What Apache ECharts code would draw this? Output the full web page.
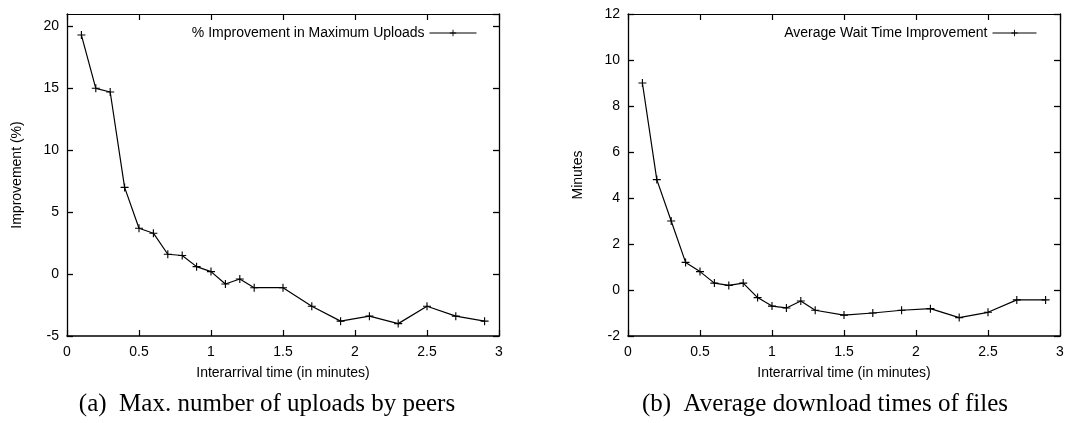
<!DOCTYPE html>
<html>
<head>
<meta charset="utf-8">
<script src="https://cdn.jsdelivr.net/npm/echarts@6/dist/echarts.min.js"></script>
<style>
  html, body { margin: 0; padding: 0; background: #fff; }
  #main { width: 1079px; height: 423px; }
</style>
</head>
<body>
<div id="main"></div>
<script>
// interarrival times (minutes)
const interarrival = [0.1, 0.2, 0.3, 0.4, 0.5, 0.6, 0.7, 0.8, 0.9, 1.0, 1.1, 1.2, 1.3, 1.5, 1.7, 1.9, 2.1, 2.3, 2.5, 2.7, 2.9]
// (a) % improvement in maximum uploads
const uploadImprovement = [19.3, 15.0, 14.7, 7.0, 3.7, 3.3, 1.6, 1.5, 0.6, 0.2, -0.8, -0.4, -1.1, -1.1, -2.6, -3.8, -3.4, -4.0, -2.6, -3.4, -3.8]
// (b) average wait time improvement (minutes)
const waitImprovement = [9.0, 4.8, 3.0, 1.2, 0.8, 0.3, 0.2, 0.3, -0.33, -0.7, -0.78, -0.48, -0.88, -1.09, -1.0, -0.88, -0.81, -1.2, -0.97, -0.43, -0.43]

const seriesNames = ['% Improvement in Maximum Uploads', 'Average Wait Time Improvement']
const captions = ['(a)  Max. number of uploads by peers', '(b)  Average download times of files']
const yNames = ['Improvement (%)', 'Minutes']

let myChart = echarts.init(document.getElementById('main'))

const sans = 'Liberation Sans, Arial, sans-serif'
const serif = 'Liberation Serif, Times New Roman, serif'
const plusSymbol = 'path://M0,4.3H10V5.7H0Z M4.3,0H5.7V10H4.3Z'

function pairs(ys) {
    return interarrival.map((x, i) => [x, ys[i]])
}

// shared axis look: black lines, inward ticks, box on all four sides
function xAxisFor(gridIndex, top) {
    return {
        gridIndex: gridIndex,
        type: 'value',
        position: top ? 'top' : 'bottom',
        min: 0,
        max: 3,
        interval: 0.5,
        name: top ? '' : 'Interarrival time (in minutes)',
        nameLocation: 'middle',
        nameGap: 30,
        nameTextStyle: { color: '#000', fontFamily: sans, fontSize: 14 },
        axisLine: { show: true, onZero: false, lineStyle: { color: '#000', width: top ? 1.2 : 1.6 } },
        axisTick: { show: true, inside: true, length: 6, lineStyle: { color: '#000', width: 1.2 } },
        axisLabel: { show: !top, color: '#000', fontFamily: sans, fontSize: 14, margin: 9 },
        splitLine: { show: false }
    }
}
function yAxisFor(gridIndex, right, min, max, interval) {
    return {
        gridIndex: gridIndex,
        type: 'value',
        position: right ? 'right' : 'left',
        min: min,
        max: max,
        interval: interval,
        name: right ? '' : yNames[gridIndex],
        nameLocation: 'middle',
        nameGap: 43,
        nameTextStyle: { color: '#000', fontFamily: sans, fontSize: 14 },
        axisLine: { show: true, onZero: false, lineStyle: { color: '#000', width: 1.3 } },
        axisTick: { show: true, inside: true, length: 6, lineStyle: { color: '#000', width: 1.3 } },
        axisLabel: { show: !right, showMaxLabel: max % interval === 0, color: '#000', fontFamily: sans, fontSize: 14, margin: 8 },
        splitLine: { show: false }
    }
}

let option = {
    backgroundColor: '#fff',
    animation: false,
    title: [
        { text: captions[0], left: 262, top: 387, textAlign: 'center',
          textStyle: { fontFamily: serif, fontWeight: 'normal', fontSize: 25, color: '#000' } },
        { text: captions[1], left: 820, top: 387, textAlign: 'center',
          textStyle: { fontFamily: serif, fontWeight: 'normal', fontSize: 25, color: '#000' } }
    ],
    legend: [
        { data: [seriesNames[0]], right: 597, top: 21, align: 'right', itemWidth: 47, itemHeight: 8,
          lineStyle: { width: 1 },
          textStyle: { color: '#000', fontFamily: sans, fontSize: 14 } },
        { data: [seriesNames[1]], right: 37, top: 21, align: 'right', itemWidth: 44, itemHeight: 8,
          lineStyle: { width: 1 },
          textStyle: { color: '#000', fontFamily: sans, fontSize: 14 } }
    ],
    grid: [
        { left: 67, right: 580, top: 14, bottom: 87 },
        { left: 628, right: 19, top: 14, bottom: 87 }
    ],
    xAxis: [
        xAxisFor(0, false), xAxisFor(0, true),
        xAxisFor(1, false), xAxisFor(1, true)
    ],
    yAxis: [
        yAxisFor(0, false, -5, 21, 5), yAxisFor(0, true, -5, 21, 5),
        yAxisFor(1, false, -2, 12, 2), yAxisFor(1, true, -2, 12, 2)
    ],
    series: [
        {
            name: seriesNames[0],
            type: 'line',
            xAxisIndex: 0,
            yAxisIndex: 0,
            data: pairs(uploadImprovement),
            symbol: plusSymbol,
            symbolSize: 8,
            itemStyle: { color: '#000' },
            lineStyle: { color: '#000', width: 1.2 }
        },
        {
            name: seriesNames[1],
            type: 'line',
            xAxisIndex: 2,
            yAxisIndex: 2,
            data: pairs(waitImprovement),
            symbol: plusSymbol,
            symbolSize: 8,
            itemStyle: { color: '#000' },
            lineStyle: { color: '#000', width: 1.2 }
        }
    ]
}
myChart.setOption(option)
</script>
</body>
</html>
